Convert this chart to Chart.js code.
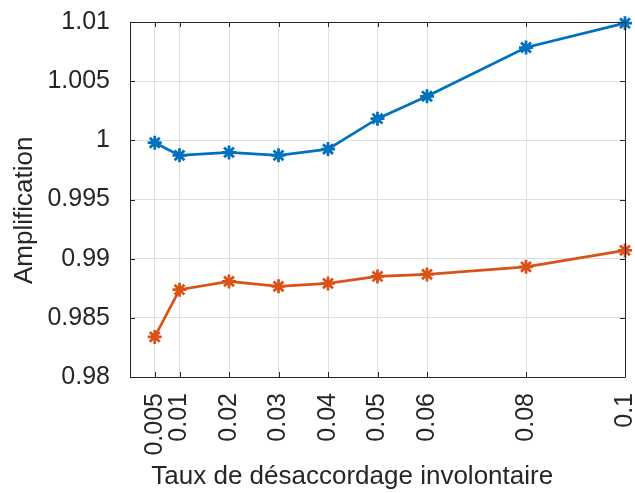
<!DOCTYPE html>
<html>
<head>
<meta charset="utf-8">
<script src="https://cdn.jsdelivr.net/npm/chart.js@4/dist/chart.umd.min.js"></script>
<style>
html,body{margin:0;padding:0;background:#fff;}
#wrap{width:635px;height:493px;}
</style>
</head>
<body>
<div id="wrap"><canvas id="c" width="635" height="493"></canvas></div>
<script>
const xValues = [0.005, 0.01, 0.02, 0.03, 0.04, 0.05, 0.06, 0.08, 0.1];
const seriesBlue = [0.9998, 0.99873, 0.99898, 0.99873, 0.99926, 1.00183, 1.00372, 1.00784, 1.0099];
const seriesOrange = [0.98339, 0.98738, 0.98808, 0.98766, 0.98791, 0.9885, 0.98867, 0.98931, 0.9907];
const xTickLabels = ['0.005', '0.01', '0.02', '0.03', '0.04', '0.05', '0.06', '0.08', '0.1'];
const yTickValues = [0.98, 0.985, 0.99, 0.995, 1, 1.005, 1.01];
const yTickLabels = ['0.98', '0.985', '0.99', '0.995', '1', '1.005', '1.01'];
const xTitle = 'Taux de désaccordage involontaire';
const yTitle = 'Amplification';

const FONT = "'Liberation Sans', Arial, Helvetica, sans-serif";
const TXT = '#262626';
const BLUE = '#0072BD';
const ORANGE = '#D95319';
const NB = '\u00A0';

const toPts = arr => arr.map((v, i) => ({x: xValues[i], y: v}));

const boxPlugin = {
  id: 'box',
  afterDraw(chart) {
    const {ctx, chartArea: a, scales} = chart;
    ctx.save();
    ctx.strokeStyle = TXT;
    ctx.lineWidth = 1;
    ctx.beginPath();
    ctx.rect(Math.round(a.left) + 0.5, Math.round(a.top) + 0.5, Math.round(a.right - a.left), Math.round(a.bottom - a.top));
    ctx.stroke();
    ctx.beginPath();
    const tl = 5;
    scales.x.ticks.forEach(t => {
      const px = Math.round(scales.x.getPixelForValue(t.value)) + 0.5;
      ctx.moveTo(px, a.bottom); ctx.lineTo(px, a.bottom - tl);
      ctx.moveTo(px, a.top); ctx.lineTo(px, a.top + tl);
    });
    scales.y.ticks.forEach(t => {
      const py = Math.round(scales.y.getPixelForValue(t.value)) + 0.5;
      ctx.moveTo(a.left, py); ctx.lineTo(a.left + tl, py);
      ctx.moveTo(a.right, py); ctx.lineTo(a.right - tl, py);
    });
    ctx.stroke();
    ctx.restore();
  }
};

new Chart(document.getElementById('c'), {
  type: 'line',
  data: {
    datasets: [
      {data: toPts(seriesBlue), borderColor: BLUE, backgroundColor: BLUE, borderWidth: 2.7,
       pointStyle: 'star', pointRadius: 7, pointBorderWidth: 2.8, pointBorderColor: BLUE, clip: false, tension: 0},
      {data: toPts(seriesOrange), borderColor: ORANGE, backgroundColor: ORANGE, borderWidth: 2.7,
       pointStyle: 'star', pointRadius: 7, pointBorderWidth: 2.8, pointBorderColor: ORANGE, clip: false, tension: 0}
    ]
  },
  options: {
    responsive: false,
    animation: false,
    events: [],
    layout: {padding: {top: 22, right: 10, left: 0, bottom: 0}},
    plugins: {legend: {display: false}, tooltip: {enabled: false}},
    scales: {
      x: {
        type: 'linear', min: 0, max: 0.1,
        afterBuildTicks: s => { s.ticks = xValues.map(v => ({value: v})); },
        afterFit: s => { s.height = 116; s.paddingLeft = 0; s.paddingRight = 0; },
        grid: {color: '#e0e0e0', drawTicks: false, lineWidth: 1},
        border: {display: false},
        ticks: {
          autoSkip: false, maxRotation: 90, minRotation: 90, padding: 16,
          color: TXT, font: {family: FONT, size: 25},
          callback: (v, i) => xTickLabels[i]
        },
        title: {display: true, text: xTitle + NB.repeat(7), color: TXT, font: {family: FONT, size: 26}, padding: {top: 0, bottom: 1}}
      },
      y: {
        type: 'linear', min: 0.98, max: 1.01,
        afterBuildTicks: s => { s.ticks = yTickValues.map(v => ({value: v})); },
        afterFit: s => { s.width = 130; s.paddingTop = 0; s.paddingBottom = 0; },
        grid: {color: '#e0e0e0', drawTicks: false, lineWidth: 1},
        border: {display: false},
        ticks: {
          padding: 20, color: TXT, font: {family: FONT, size: 25},
          callback: (v, i) => yTickLabels[i]
        },
        title: {display: true, text: yTitle + NB.repeat(3), color: TXT, font: {family: FONT, size: 26}, padding: {top: 9, bottom: 0}}
      }
    }
  },
  plugins: [boxPlugin]
});
</script>
</body>
</html>
